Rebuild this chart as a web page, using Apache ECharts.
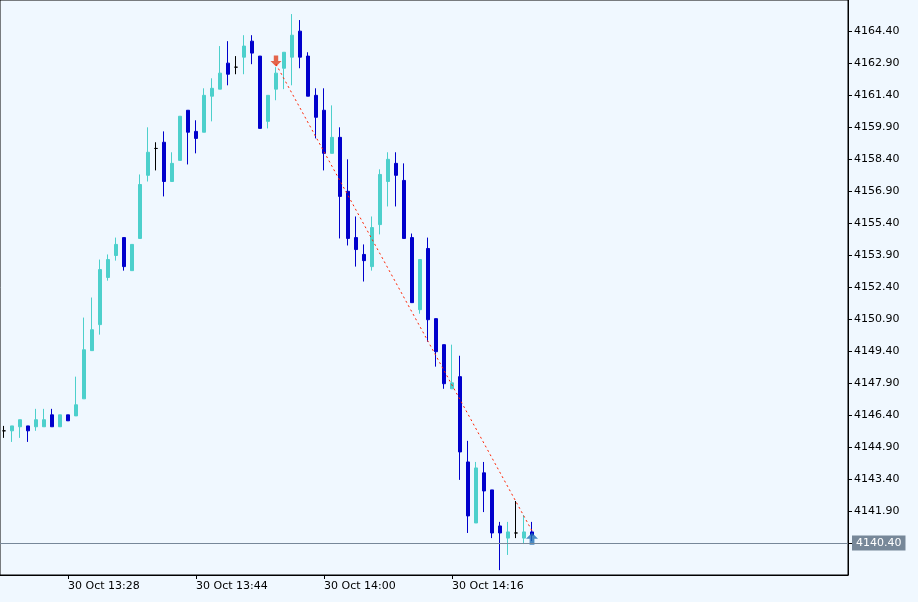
<!DOCTYPE html>
<html><head><meta charset="utf-8">
<script src="https://cdn.jsdelivr.net/npm/echarts@6/dist/echarts.min.js"></script>
<style>html,body{margin:0;padding:0;background:#F0F8FF}#c{width:918px;height:602px}</style>
</head><body><div id="c"></div>
<script>
// [open, close, low, high] for 1-minute bars from 13:20
const candles = [
[4145.66,4145.66,4145.33,4145.89],[4145.66,4145.89,4145.14,4145.89],[4145.85,4146.18,4145.33,4146.18],
[4145.89,4145.66,4145.14,4145.89],[4145.85,4146.18,4145.66,4146.69],[4145.85,4146.18,4145.85,4146.69],
[4146.41,4145.85,4145.85,4146.69],[4145.85,4146.41,4145.85,4146.41],[4146.41,4146.13,4146.13,4146.41],
[4146.36,4146.88,4146.36,4148.20],[4147.16,4149.46,4147.16,4150.97],[4149.42,4150.40,4149.42,4151.91],
[4150.64,4153.22,4150.17,4153.69],[4152.85,4153.69,4152.70,4153.93],[4153.88,4154.40,4153.64,4154.72],
[4154.72,4153.36,4153.17,4154.72],[4153.17,4154.40,4153.17,4154.40],[4154.68,4157.21,4154.68,4157.68],
[4157.64,4158.72,4157.35,4159.89],[4158.90,4158.90,4157.87,4159.19],[4159.19,4157.35,4156.65,4159.70],
[4157.35,4158.20,4157.35,4158.72],[4158.34,4160.41,4158.34,4160.41],[4160.69,4159.66,4158.15,4160.69],
[4159.70,4159.37,4158.67,4160.22],[4159.66,4161.39,4159.66,4161.72],[4161.35,4161.72,4160.17,4162.19],
[4161.68,4162.43,4161.68,4163.70],[4162.90,4162.38,4161.86,4163.93],[4162.71,4162.71,4162.38,4163.23],
[4163.18,4163.70,4162.38,4164.21],[4163.93,4163.37,4162.85,4164.21],[4163.23,4159.84,4159.84,4163.23],
[4160.17,4161.39,4159.84,4161.39],[4161.68,4162.43,4161.16,4162.71],[4162.66,4163.41,4161.68,4163.41],
[4163.18,4164.21,4161.86,4165.20],[4164.40,4163.18,4162.66,4164.92],[4163.23,4161.35,4161.35,4163.41],
[4161.39,4160.36,4159.37,4161.72],[4160.69,4158.67,4157.87,4161.72],[4158.67,4159.42,4158.67,4160.92],
[4159.42,4156.65,4154.68,4159.89],[4156.89,4154.68,4154.35,4158.39],[4154.72,4154.16,4153.36,4155.71],
[4153.93,4153.64,4152.66,4154.40],[4153.36,4155.19,4153.17,4155.71],[4155.33,4157.68,4154.87,4157.92],
[4157.35,4158.39,4156.18,4158.72],[4158.20,4157.64,4156.18,4158.72],[4157.40,4154.68,4154.68,4158.20],
[4154.72,4151.67,4151.67,4154.91],[4151.34,4153.69,4151.15,4153.69],[4154.21,4150.87,4149.84,4154.72],
[4150.92,4149.37,4148.67,4150.92],[4149.70,4147.87,4147.63,4149.70],[4147.63,4147.91,4147.63,4149.70],
[4148.20,4144.67,4143.36,4149.18],[4144.20,4141.67,4140.87,4145.19],[4141.34,4143.92,4141.34,4144.20],
[4143.69,4142.84,4141.85,4144.20],[4142.89,4140.87,4140.63,4142.89],[4141.20,4140.87,4139.13,4141.39],
[4140.63,4140.92,4139.84,4141.39],[4140.87,4140.87,4140.63,4142.37],[4140.63,4140.92,4140.35,4141.71],
[4140.92,4140.77,4140.49,4141.39]
];
const startMinute = 13*60+20;
const totalSlots = 106;
const labelTimes = ['13:28','13:44','14:00','14:16'];
const lastPrice = 4140.40;
const sellSignal = {idx:34, price:4163.0};
const buySignal = {idx:66, price:4140.6};
const tradeLine = [{idx:34, price:4162.85},{idx:66, price:4140.97}];

const cats = [];
for (let i=0;i<totalSlots;i++){const m=startMinute+i;const h=Math.floor(m/60),mm=m%60;cats.push(h+':'+String(mm).padStart(2,'0'));}
const cdata = candles.map(c => c[0]===c[1] ? {value:c, itemStyle:{color:'#000',color0:'#000',borderColor:'#000',borderColor0:'#000'}} : c);
const lineData = cats.map(()=>null);
tradeLine.forEach(p=>lineData[p.idx]=p.price);
const showIdx = new Set(labelTimes.map(t=>cats.indexOf(t)));

const chart = echarts.init(document.getElementById('c'));
chart.setOption({
  backgroundColor:'#F0F8FF',
  animation:false,
  grid:{left:0,right:70,top:0,bottom:27,show:true,borderColor:'#000',borderWidth:1,backgroundColor:'#F0F8FF'},
  xAxis:{type:'category',data:cats,boundaryGap:true,
    axisLine:{lineStyle:{color:'#000'}},
    axisTick:{show:true,alignWithLabel:true,length:4,interval:(i)=>showIdx.has(i),lineStyle:{color:'#000'}},
    axisLabel:{interval:(i)=>showIdx.has(i),formatter:v=>'30 Oct '+v,align:'left',color:'#000',fontSize:11,fontFamily:'DejaVu Sans',margin:6},
    splitLine:{show:false}},
  yAxis:{type:'value',position:'right',min:4138.9,max:4165.86,interval:1.5,scale:true,
    axisLine:{show:true,lineStyle:{color:'#000'}},
    axisTick:{show:true,length:4,lineStyle:{color:'#000'}},
    axisLabel:{showMinLabel:false,showMaxLabel:false,formatter:v=>v.toFixed(2),color:'#000',fontSize:11,fontFamily:'DejaVu Sans',margin:6},
    splitLine:{show:false}},
  series:[
    {type:'candlestick',data:cdata,barWidth:4,
      itemStyle:{color:'#4DD0CC',color0:'#0000CC',borderColor:'#4DD0CC',borderColor0:'#0000CC',borderWidth:1},
      markLine:{silent:true,symbol:'none',
        data:[{yAxis:lastPrice}],
        lineStyle:{color:'#778899',type:'solid',width:1},
        label:{position:'end',formatter:lastPrice.toFixed(2),backgroundColor:'#778899',color:'#fff',fontSize:11,fontFamily:'DejaVu Sans',padding:[2,4,2,4],distance:4}}},
    {type:'line',data:lineData,connectNulls:true,symbol:'none',lineStyle:{color:'#FF2200',type:[2,3],width:1}},
    {type:'scatter',data:[[sellSignal.idx,sellSignal.price]],symbol:'path://M3,0 L7,0 L7,5 L10,5 L5,10 L0,5 L3,5 Z',symbolSize:[11,11],itemStyle:{color:'#E0401E'}},
    {type:'scatter',data:[[buySignal.idx,buySignal.price]],symbol:'path://M5,0 L10,5 L7,5 L7,10 L3,10 L3,5 L0,5 Z',symbolSize:[12,12],itemStyle:{color:'#1E6EB4'}}
  ]
});
</script></body></html>
